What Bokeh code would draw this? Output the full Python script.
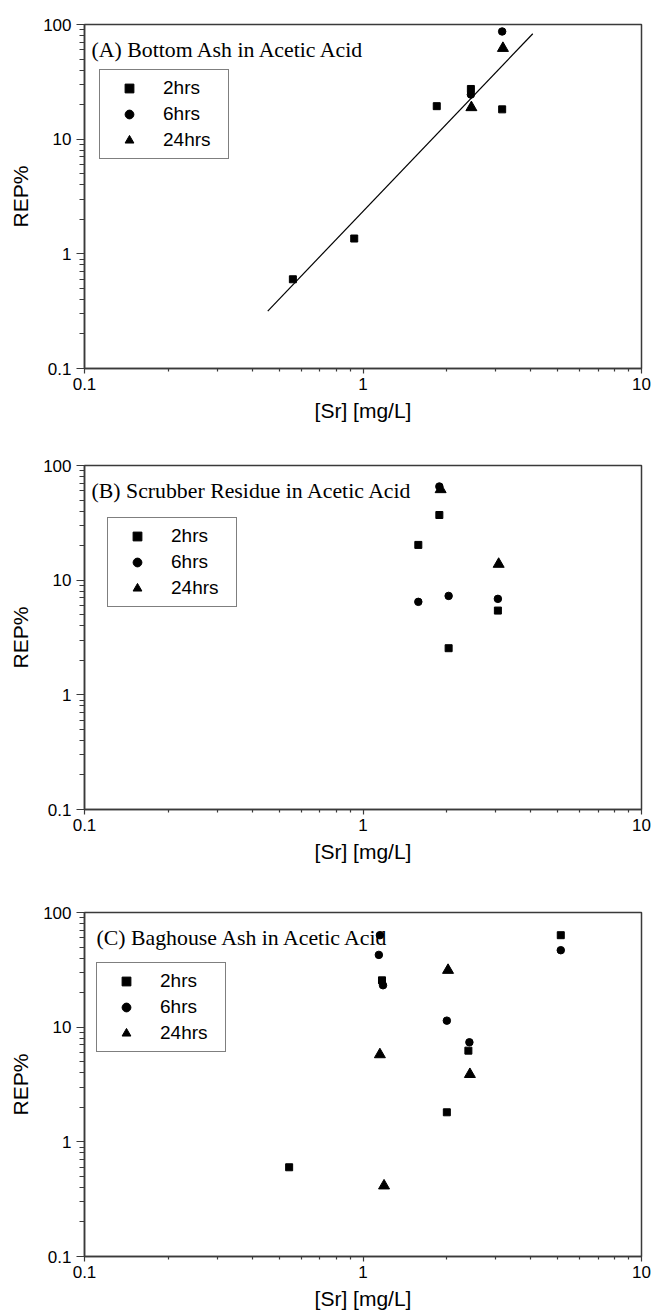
from bokeh.plotting import figure
from bokeh.layouts import column
from bokeh.models import Range1d, FixedTicker, Label, Legend, LegendItem
from bokeh.embed import file_html
from bokeh.resources import INLINE

# ---------------- data ----------------
# Panel A: Bottom Ash in Acetic Acid
a_2h_x = [0.56, 0.93, 1.84, 2.44, 3.16]
a_2h_y = [0.60, 1.36, 19.4, 27.4, 18.2]
a_6h_x = [2.44, 3.16]
a_6h_y = [24.5, 86.9]
a_24h_x = [2.45, 3.18]
a_24h_y = [18.9, 62.1]
a_fit_x = [0.455, 4.07]
a_fit_y = [0.317, 83.0]

# Panel B: Scrubber Residue in Acetic Acid
b_2h_x = [1.58, 1.88, 2.03, 3.05]
b_2h_y = [20.3, 37.0, 2.55, 5.43]
b_6h_x = [1.58, 2.03, 3.05, 1.88]
b_6h_y = [6.47, 7.29, 6.87, 65.6]
b_24h_x = [1.90, 3.07]
b_24h_y = [61.8, 13.8]

# Panel C: Baghouse Ash in Acetic Acid
c_2h_x = [0.543, 1.17, 2.0, 2.39, 5.13]
c_2h_y = [0.60, 25.6, 1.81, 6.24, 63.4]
c_6h_x = [1.15, 1.14, 1.18, 2.0, 2.41, 5.13]
c_6h_y = [63.4, 42.7, 23.2, 11.4, 7.38, 46.9]
c_24h_x = [1.15, 1.19, 2.02, 2.42]
c_24h_y = [5.77, 0.414, 31.4, 3.88]

series_labels = ["2hrs", "6hrs", "24hrs"]
x_major = [0.1, 1, 10]
y_major = [0.1, 1, 10, 100]
x_tick_labels = {0.1: "0.1", 1: "1", 10: "10"}
y_tick_labels = {0.1: "0.1", 1: "1", 10: "10", 100: "100"}
x_label = "[Sr] [mg/L]"
y_label = "REP%"

AXC = "#3a3a3a"
SANS = "Liberation Sans"
SERIF = "Liberation Serif"


def minors(lo_exp, hi_exp):
    out = []
    for e in range(lo_exp, hi_exp):
        for m in range(2, 10):
            out.append(round(m * 10 ** e, 6))
    return out


def make_panel(title, s2, s6, s24, height, bl, br, bt, bb, title_dx,
               leg_left, leg_top, fit=None):
    p = figure(width=661, height=height, x_axis_type="log", y_axis_type="log",
               x_range=Range1d(0.1, 10), y_range=Range1d(0.1, 100),
               output_backend="svg", toolbar_location=None,
               min_border_left=bl, min_border_right=br,
               min_border_top=bt, min_border_bottom=bb)
    p.grid.visible = False
    p.outline_line_color = AXC
    p.outline_line_width = 1.5
    p.background_fill_color = "white"
    p.border_fill_color = "white"

    p.xaxis.ticker = FixedTicker(ticks=x_major, minor_ticks=minors(-1, 1))
    p.yaxis.ticker = FixedTicker(ticks=y_major, minor_ticks=minors(-1, 2))
    p.xaxis.major_label_overrides = x_tick_labels
    p.yaxis.major_label_overrides = y_tick_labels
    p.xaxis.axis_label = x_label
    p.yaxis.axis_label = y_label

    for ax in (p.xaxis[0], p.yaxis[0]):
        ax.axis_line_color = AXC
        ax.axis_line_width = 1.5
        ax.major_tick_line_color = AXC
        ax.minor_tick_line_color = AXC
        ax.major_tick_line_width = 1.2
        ax.minor_tick_line_width = 1.2
        ax.major_tick_in = 0
        ax.minor_tick_in = 0
        ax.major_label_text_font = SANS
        ax.major_label_text_font_size = "17px"
        ax.major_label_text_color = "black"
        ax.axis_label_text_font = SANS
        ax.axis_label_text_font_size = "21px"
        ax.axis_label_text_font_style = "normal"
        ax.axis_label_text_color = "black"

    p.xaxis.major_tick_out = 5
    p.xaxis.minor_tick_out = 3
    p.xaxis.major_label_standoff = 4
    p.xaxis.axis_label_standoff = 6
    p.yaxis.major_tick_out = 8
    p.yaxis.minor_tick_out = 5
    p.yaxis.major_label_standoff = 5
    p.yaxis.axis_label_standoff = 8

    if fit is not None:
        p.line(fit[0], fit[1], line_color="black", line_width=1.2)

    r2 = p.scatter(s2[0], s2[1], marker="square", size=7,
                   fill_color="black", line_color="black")
    r6 = p.scatter(s6[0], s6[1], marker="circle", size=7.5,
                   fill_color="black", line_color="black")
    r24 = p.scatter(s24[0], s24[1], marker="triangle", size=11,
                    fill_color="black", line_color="black")

    frame_h = height - bt - bb
    p.add_layout(Label(x=title_dx, y=frame_h - 25, x_units="screen", y_units="screen",
                       text=title, text_font=SERIF, text_font_size="21.8px",
                       text_color="black", text_baseline="middle"))

    pad, lh, sp = 7, 22, 4
    leg_h = 2 * pad + 3 * lh + 2 * sp
    legend = Legend(items=[LegendItem(label=series_labels[0], renderers=[r2]),
                           LegendItem(label=series_labels[1], renderers=[r6]),
                           LegendItem(label=series_labels[2], renderers=[r24])],
                    location=(leg_left, frame_h - leg_top - leg_h),
                    padding=pad, spacing=sp, margin=0,
                    glyph_width=44, glyph_height=lh,
                    label_height=lh, label_width=58, label_standoff=12,
                    label_text_font=SANS, label_text_font_size="19px",
                    label_text_color="black",
                    border_line_color="black", border_line_width=1,
                    background_fill_color="white", background_fill_alpha=1.0)
    p.add_layout(legend, "center")
    return p


pA = make_panel("(A) Bottom Ash in Acetic Acid",
                (a_2h_x, a_2h_y), (a_6h_x, a_6h_y), (a_24h_x, a_24h_y),
                height=440, bl=83, br=15, bt=24, bb=72, title_dx=7,
                leg_left=15, leg_top=47, fit=(a_fit_x, a_fit_y))
pB = make_panel("(B) Scrubber Residue in Acetic Acid",
                (b_2h_x, b_2h_y), (b_6h_x, b_6h_y), (b_24h_x, b_24h_y),
                height=436, bl=83, br=20, bt=25, bb=67, title_dx=7,
                leg_left=23, leg_top=54)
pC = make_panel("(C) Baghouse Ash in Acetic Acid",
                (c_2h_x, c_2h_y), (c_6h_x, c_6h_y), (c_24h_x, c_24h_y),
                height=436, bl=84, br=16, bt=36, bb=56, title_dx=12,
                leg_left=12, leg_top=52)

layout = column(pA, pB, pC, spacing=0)
open("out.html", "w").write(file_html(layout, INLINE))
